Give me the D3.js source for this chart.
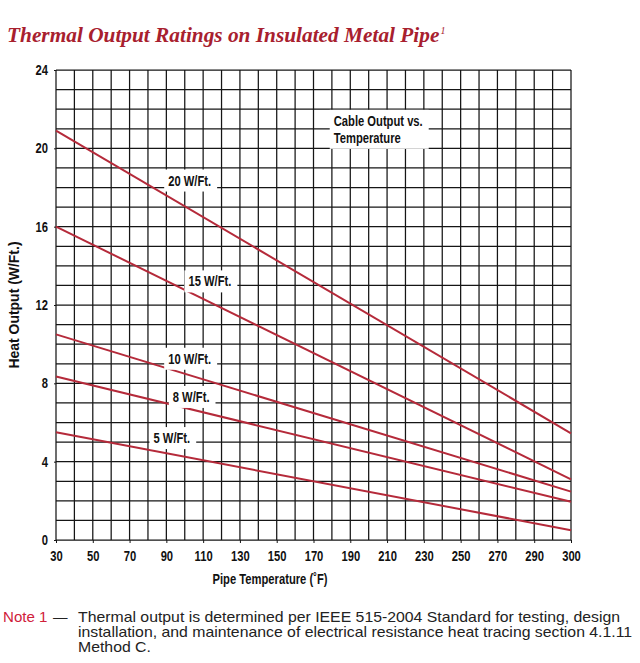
<!DOCTYPE html>
<html>
<head>
<meta charset="utf-8">
<script src="https://cdn.jsdelivr.net/npm/d3@7"></script>
<style>
  body { margin: 0; background: #fff; }
  .narrow { font-family: "Liberation Sans", Arial, sans-serif; font-weight: bold; }
</style>
</head>
<body>
<div id="chart"></div>
<script>
// values (straight lines, read at both ends)
const temps = [30, 300];                 // pipe temperature (F)
const cableNames = ["20 W/Ft.", "15 W/Ft.", "10 W/Ft.", "8 W/Ft.", "5 W/Ft."];
const out20 = [20.9, 5.45];
const out15 = [16.0, 3.1];
const out10 = [10.5, 2.47];
const out8  = [8.35, 1.95];
const out5  = [5.5, 0.5];

const xTicks = [30, 50, 70, 90, 110, 130, 150, 170, 190, 210, 230, 250, 270, 290, 300];
const yTicks = [0, 4, 8, 12, 16, 20, 24];

// where the line names sit (temp, output)
const labelTemp  = [91, 102, 91, 93.5, 83];
const labelValue = [18.35, 13.2, 9.25, 7.3, 5.2];

const noteLines = [
  "Thermal output is determined per IEEE 515-2004 Standard for testing, design",
  "installation, and maintenance of electrical resistance heat tracing section 4.1.11",
  "Method C."
];

const red = "#b52a3a";

const svg = d3.select("#chart").append("svg")
    .attr("width", 640)
    .attr("height", 663);

// squeeze or stretch text sideways (no condensed font installed)
function squeeze(sel, k) {
  sel.each(function() {
    const w = this.getComputedTextLength();
    d3.select(this).attr("textLength", w * k).attr("lengthAdjust", "spacingAndGlyphs");
  });
}

const plotL = 56, plotR = 571, plotT = 70, plotB = 540;
const colW = (plotR - plotL) / 28;   // 28 grid columns, the last two between 290 and 300

const x = d3.scaleLinear()
    .domain([30, 290, 300])
    .range([plotL, plotL + 26 * colW, plotR]);

const y = d3.scaleLinear()
    .domain([0, 24])
    .range([plotB, plotT]);

// title
const title = svg.append("text")
    .attr("x", 7)
    .attr("y", 42)
    .style("font-family", "'Liberation Serif', 'DejaVu Serif', serif")
    .style("font-style", "italic")
    .style("font-weight", "bold")
    .style("font-size", "20.5px")
    .style("fill", "#a8202e")
    .text("Thermal Output Ratings on Insulated Metal Pipe");
squeeze(title, 1.04);
const tb = title.node().getBBox();
svg.append("text")
    .attr("x", tb.x + tb.width + 1)
    .attr("y", 34)
    .style("font-family", "'Liberation Serif', serif")
    .style("font-style", "italic")
    .style("font-size", "10px")
    .style("fill", "#a8202e")
    .text("1");

// grid
const vLines = d3.range(30, 291, 10).concat([295, 300]);
const hLines = d3.range(0, 25, 1);

svg.append("g").selectAll("line")
    .data(vLines)
    .join("line")
        .attr("x1", d => x(d)).attr("x2", d => x(d))
        .attr("y1", plotT).attr("y2", plotB)
        .attr("stroke", "#151515")
        .attr("stroke-width", 1.25);

svg.append("g").selectAll("line")
    .data(hLines)
    .join("line")
        .attr("x1", plotL).attr("x2", plotR)
        .attr("y1", d => y(d)).attr("y2", d => y(d))
        .attr("stroke", "#151515")
        .attr("stroke-width", 1.25);

// axes (labels and short ticks only)
const xAxis = svg.append("g")
    .attr("transform", `translate(0,${plotB})`)
    .call(d3.axisBottom(x).tickValues(xTicks).tickSize(3).tickPadding(8).tickFormat(d3.format("d")));
const yAxis = svg.append("g")
    .attr("transform", `translate(${plotL},0)`)
    .call(d3.axisLeft(y).tickValues(yTicks).tickSize(2).tickPadding(6));

[xAxis, yAxis].forEach(ax => {
  ax.select(".domain").remove();
  ax.selectAll(".tick line").attr("stroke", "#151515");
  ax.selectAll("text")
      .attr("class", "narrow")
      .style("font-size", "14px")
      .style("fill", "#111");
  squeeze(ax.selectAll("text"), 0.8);
});

// axis titles
const xTitle = svg.append("text")
    .attr("class", "narrow")
    .attr("x", 270)
    .attr("y", 584)
    .attr("text-anchor", "middle")
    .style("font-size", "14px")
    .style("fill", "#111")
    .text("Pipe Temperature (˚F)");
squeeze(xTitle, 0.8);

const yTitle = svg.append("text")
    .attr("class", "narrow")
    .attr("transform", "translate(19,305) rotate(-90)")
    .attr("text-anchor", "middle")
    .style("font-size", "15px")
    .style("fill", "#111")
    .text("Heat Output (W/Ft.)");
squeeze(yTitle, 0.93);

// lines
const seriesData = [out20, out15, out10, out8, out5].map((vals, i) => ({
  name: cableNames[i],
  points: temps.map((t, j) => ({ t: t, v: vals[j] }))
}));

const line = d3.line()
    .x(d => x(d.t))
    .y(d => y(d.v));

svg.append("g").selectAll("path")
    .data(seriesData)
    .join("path")
        .attr("d", d => line(d.points))
        .attr("fill", "none")
        .attr("stroke", red)
        .attr("stroke-width", 2);

// label boxes
function boxedText(lines, tx, ty) {
  const g = svg.append("g");
  const rect = g.append("rect").attr("fill", "#fff");
  lines.forEach((l, i) => {
    const t = g.append("text")
        .attr("class", "narrow")
        .attr("x", tx)
        .attr("y", ty + i * 17)
        .attr("dy", "0.35em")
        .style("font-size", "14px")
        .style("fill", "#111")
        .text(l);
    squeeze(t, 0.8);
  });
  const bb = g.node().getBBox();
  rect.attr("x", bb.x - 4).attr("y", bb.y - 3)
      .attr("width", bb.width + 10).attr("height", bb.height + 6);
}

cableNames.forEach((n, i) => boxedText([n], x(labelTemp[i]), y(labelValue[i])));
boxedText(["Cable Output vs.", "Temperature"], x(181), y(21.4));

// note
const note = svg.append("g")
    .style("font-family", "'Liberation Sans', Arial, sans-serif")
    .style("font-size", "14.5px");
const noteHead = note.append("text")
    .attr("x", 3).attr("y", 622)
    .style("fill", "#d0203a")
    .text("Note 1");
squeeze(noteHead, 1.04);
note.append("text")
    .attr("x", 53).attr("y", 622)
    .style("fill", "#222")
    .text("—");
const noteBody = note.append("g").selectAll("text")
    .data(noteLines)
    .join("text")
        .attr("x", 78)
        .attr("y", (d, i) => 622 + i * 15)
        .style("fill", "#222")
        .text(d => d);
squeeze(noteBody, 1.09);
</script>
</body>
</html>
